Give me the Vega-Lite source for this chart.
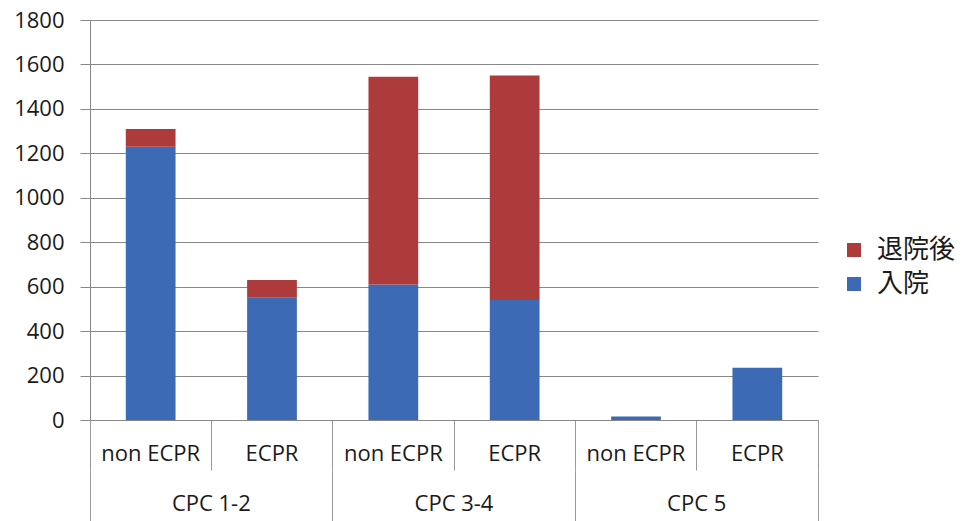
{
  "$schema": "https://vega.github.io/schema/vega-lite/v6.json",
  "autosize": "none",
  "width": 728,
  "height": 400,
  "padding": {"left": 90, "top": 20, "right": 147, "bottom": 101},
  "background": "white",
  "config": {
    "font": "Open Sans",
    "view": {"stroke": null},
    "axis": {"labelColor": "#1a1a1a", "labelFont": "Open Sans", "labelFontSize": 22, "titleFontSize": 22}
  },
  "data": {
    "values": [
      {"bar": "CPC 1-2|non ECPR", "cpc": "CPC 1-2", "type": "入院", "value": 1230},
      {"bar": "CPC 1-2|non ECPR", "cpc": "CPC 1-2", "type": "退院後", "value": 80},
      {"bar": "CPC 1-2|ECPR", "cpc": "CPC 1-2", "type": "入院", "value": 550},
      {"bar": "CPC 1-2|ECPR", "cpc": "CPC 1-2", "type": "退院後", "value": 80},
      {"bar": "CPC 3-4|non ECPR", "cpc": "CPC 3-4", "type": "入院", "value": 610},
      {"bar": "CPC 3-4|non ECPR", "cpc": "CPC 3-4", "type": "退院後", "value": 935},
      {"bar": "CPC 3-4|ECPR", "cpc": "CPC 3-4", "type": "入院", "value": 540},
      {"bar": "CPC 3-4|ECPR", "cpc": "CPC 3-4", "type": "退院後", "value": 1010},
      {"bar": "CPC 5|non ECPR", "cpc": "CPC 5", "type": "入院", "value": 16},
      {"bar": "CPC 5|non ECPR", "cpc": "CPC 5", "type": "退院後", "value": 0},
      {"bar": "CPC 5|ECPR", "cpc": "CPC 5", "type": "入院", "value": 235},
      {"bar": "CPC 5|ECPR", "cpc": "CPC 5", "type": "退院後", "value": 0}
    ]
  },
  "layer": [
    {
      "mark": {"type": "bar", "width": {"band": 0.41}},
      "encoding": {
        "x": {
          "field": "bar",
          "type": "nominal",
          "sort": null,
          "scale": {"type": "band", "paddingInner": 0, "paddingOuter": 0},
          "axis": {
            "title": null,
            "labelAngle": 0,
            "labelExpr": "split(datum.label, '|')[1]",
            "domainColor": "#888888",
            "tickColor": "#999999",
            "tickSize": 50,
            "bandPosition": 1,
            "tickExtra": true,
            "labelPadding": -27,
            "labelBaseline": "top"
          }
        },
        "y": {
          "field": "value",
          "type": "quantitative",
          "stack": "zero",
          "scale": {"domain": [0, 1800], "nice": false},
          "axis": {
            "title": null,
            "values": [0, 200, 400, 600, 800, 1000, 1200, 1400, 1600, 1800],
            "format": "d",
            "gridColor": "#888888",
            "domainColor": "#888888",
            "tickColor": "#888888",
            "tickSize": 10,
            "labelPadding": 16
          }
        },
        "color": {
          "field": "type",
          "type": "nominal",
          "scale": {"domain": ["退院後", "入院"], "range": ["#AE3B3B", "#3C6AB4"]},
          "legend": {
            "title": null,
            "orient": "none",
            "legendX": 751,
            "legendY": 217,
            "padding": 0,
            "symbolType": "square",
            "symbolSize": 196,
            "symbolStrokeWidth": 0,
            "labelFont": "Noto Sans CJK JP",
            "labelFontSize": 26,
            "labelColor": "#1a1a1a",
            "labelOffset": 10,
            "rowPadding": 8
          }
        },
        "order": {"field": "type", "sort": "ascending"}
      }
    },
    {
      "mark": {"type": "text", "text": ""},
      "encoding": {
        "x": {
          "field": "cpc",
          "type": "nominal",
          "sort": null,
          "scale": {"type": "band", "paddingInner": 0, "paddingOuter": 0},
          "axis": {
            "title": null,
            "labelAngle": 0,
            "orient": "bottom",
            "offset": 50,
            "domain": false,
            "tickColor": "#999999",
            "tickSize": 51,
            "bandPosition": 1,
            "tickExtra": true,
            "labelPadding": -28,
            "labelBaseline": "top"
          }
        }
      }
    }
  ],
  "resolve": {"scale": {"x": "independent"}, "axis": {"x": "independent"}}
}
